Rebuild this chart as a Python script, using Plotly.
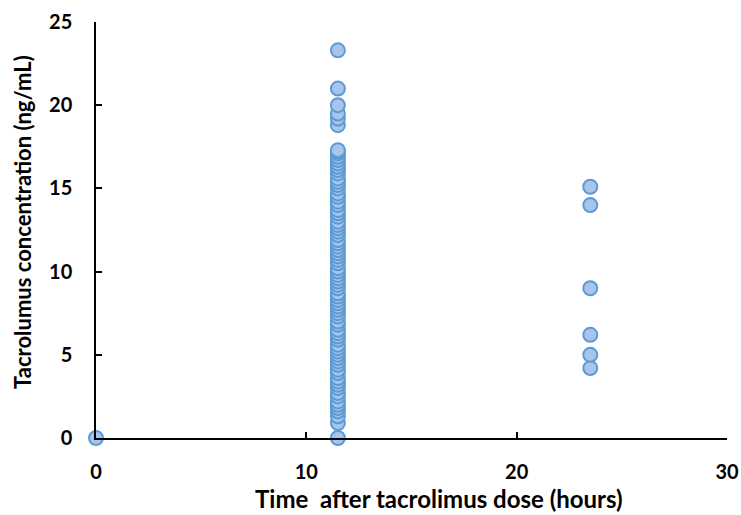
import plotly.graph_objects as go

# Data
origin_time = [0.0]
origin_conc = [0.0]

trough_time = 11.5
trough_conc = [0.0, 0.9, 1.3, 1.6, 1.8, 2.0, 2.2, 2.5, 2.7, 3.0, 3.2, 3.4, 3.6, 3.9,
               4.1, 4.4, 4.6, 4.8, 5.0, 5.2, 5.4, 5.6, 5.9, 6.1, 6.3, 6.5, 6.8, 7.0,
               7.3, 7.5, 7.7, 7.9, 8.1, 8.3, 8.5, 8.7, 9.0, 9.2, 9.4, 9.6, 9.8, 10.0,
               10.2, 10.5, 10.7, 10.9, 11.1, 11.3, 11.5, 11.7, 11.9, 12.2, 12.4, 12.6,
               12.8, 13.0, 13.3, 13.5, 13.7, 14.0, 14.2, 14.5, 14.7, 15.0, 15.2, 15.4,
               15.6, 15.9, 16.1, 16.3, 16.5, 16.7, 16.9, 17.1, 17.2, 17.3, 18.8, 19.2,
               19.5, 20.0, 21.0, 23.3]

late_time = 23.5
late_conc = [4.2, 5.0, 6.2, 9.0, 14.0, 15.1]

x_ticks = [0, 10, 20, 30]
y_ticks = [0, 5, 10, 15, 20, 25]

x_title = "Time  after tacrolimus dose (hours)"
y_title = "Tacrolumus concentration (ng/mL)"

xs = origin_time + [trough_time] * len(trough_conc) + [late_time] * len(late_conc)
ys = origin_conc + trough_conc + late_conc

fig = go.Figure(go.Scatter(
    x=xs, y=ys, mode="markers",
    marker=dict(size=14, color="#A9C4EB", line=dict(color="#5B9BD5", width=2)),
    cliponaxis=False, showlegend=False,
))

font_family = "Lato, 'Open Sans', sans-serif"
fig.update_layout(
    width=741, height=515,
    margin=dict(l=96, r=14, t=22, b=77, autoexpand=False),
    paper_bgcolor="white", plot_bgcolor="white",
    font=dict(family=font_family, color="black"),
)
fig.update_xaxes(
    range=[0, 30], tickvals=x_ticks, showgrid=False, zeroline=False,
    showline=True, linecolor="black", linewidth=1.5,
    ticks="inside", ticklen=6, tickcolor="black", tickwidth=1.5,
    tickfont=dict(size=20, family=font_family, weight="bold"),
    ticklabelstandoff=15, automargin=False,
)
fig.update_yaxes(
    range=[0, 25], tickvals=y_ticks, showgrid=False, zeroline=False,
    showline=True, linecolor="black", linewidth=1.5,
    ticks="inside", ticklen=6, tickcolor="black", tickwidth=1.5,
    tickfont=dict(size=20, family=font_family, weight="bold"),
    ticklabelstandoff=18, automargin=False,
)
fig.add_annotation(
    text="<b>" + x_title + "</b>", xref="paper", yref="paper",
    x=(439 - 96) / (727 - 96), y=-(498 - 438) / (438 - 22),
    xanchor="center", yanchor="middle", showarrow=False,
    font=dict(size=24, family=font_family, color="black"),
)
fig.add_annotation(
    text="<b>" + y_title + "</b>", xref="paper", yref="paper",
    x=-(96 - 23) / (727 - 96), y=(438 - 222) / (438 - 22),
    xanchor="center", yanchor="middle", showarrow=False, textangle=-90,
    font=dict(size=22, family=font_family, color="black"),
)

# remove the default page margin so the figure sits at the window's corner
fig.write_html(
    "out.html",
    config={"displayModeBar": False},
    post_script="document.body.style.margin='0';document.body.style.overflow='hidden';",
)
